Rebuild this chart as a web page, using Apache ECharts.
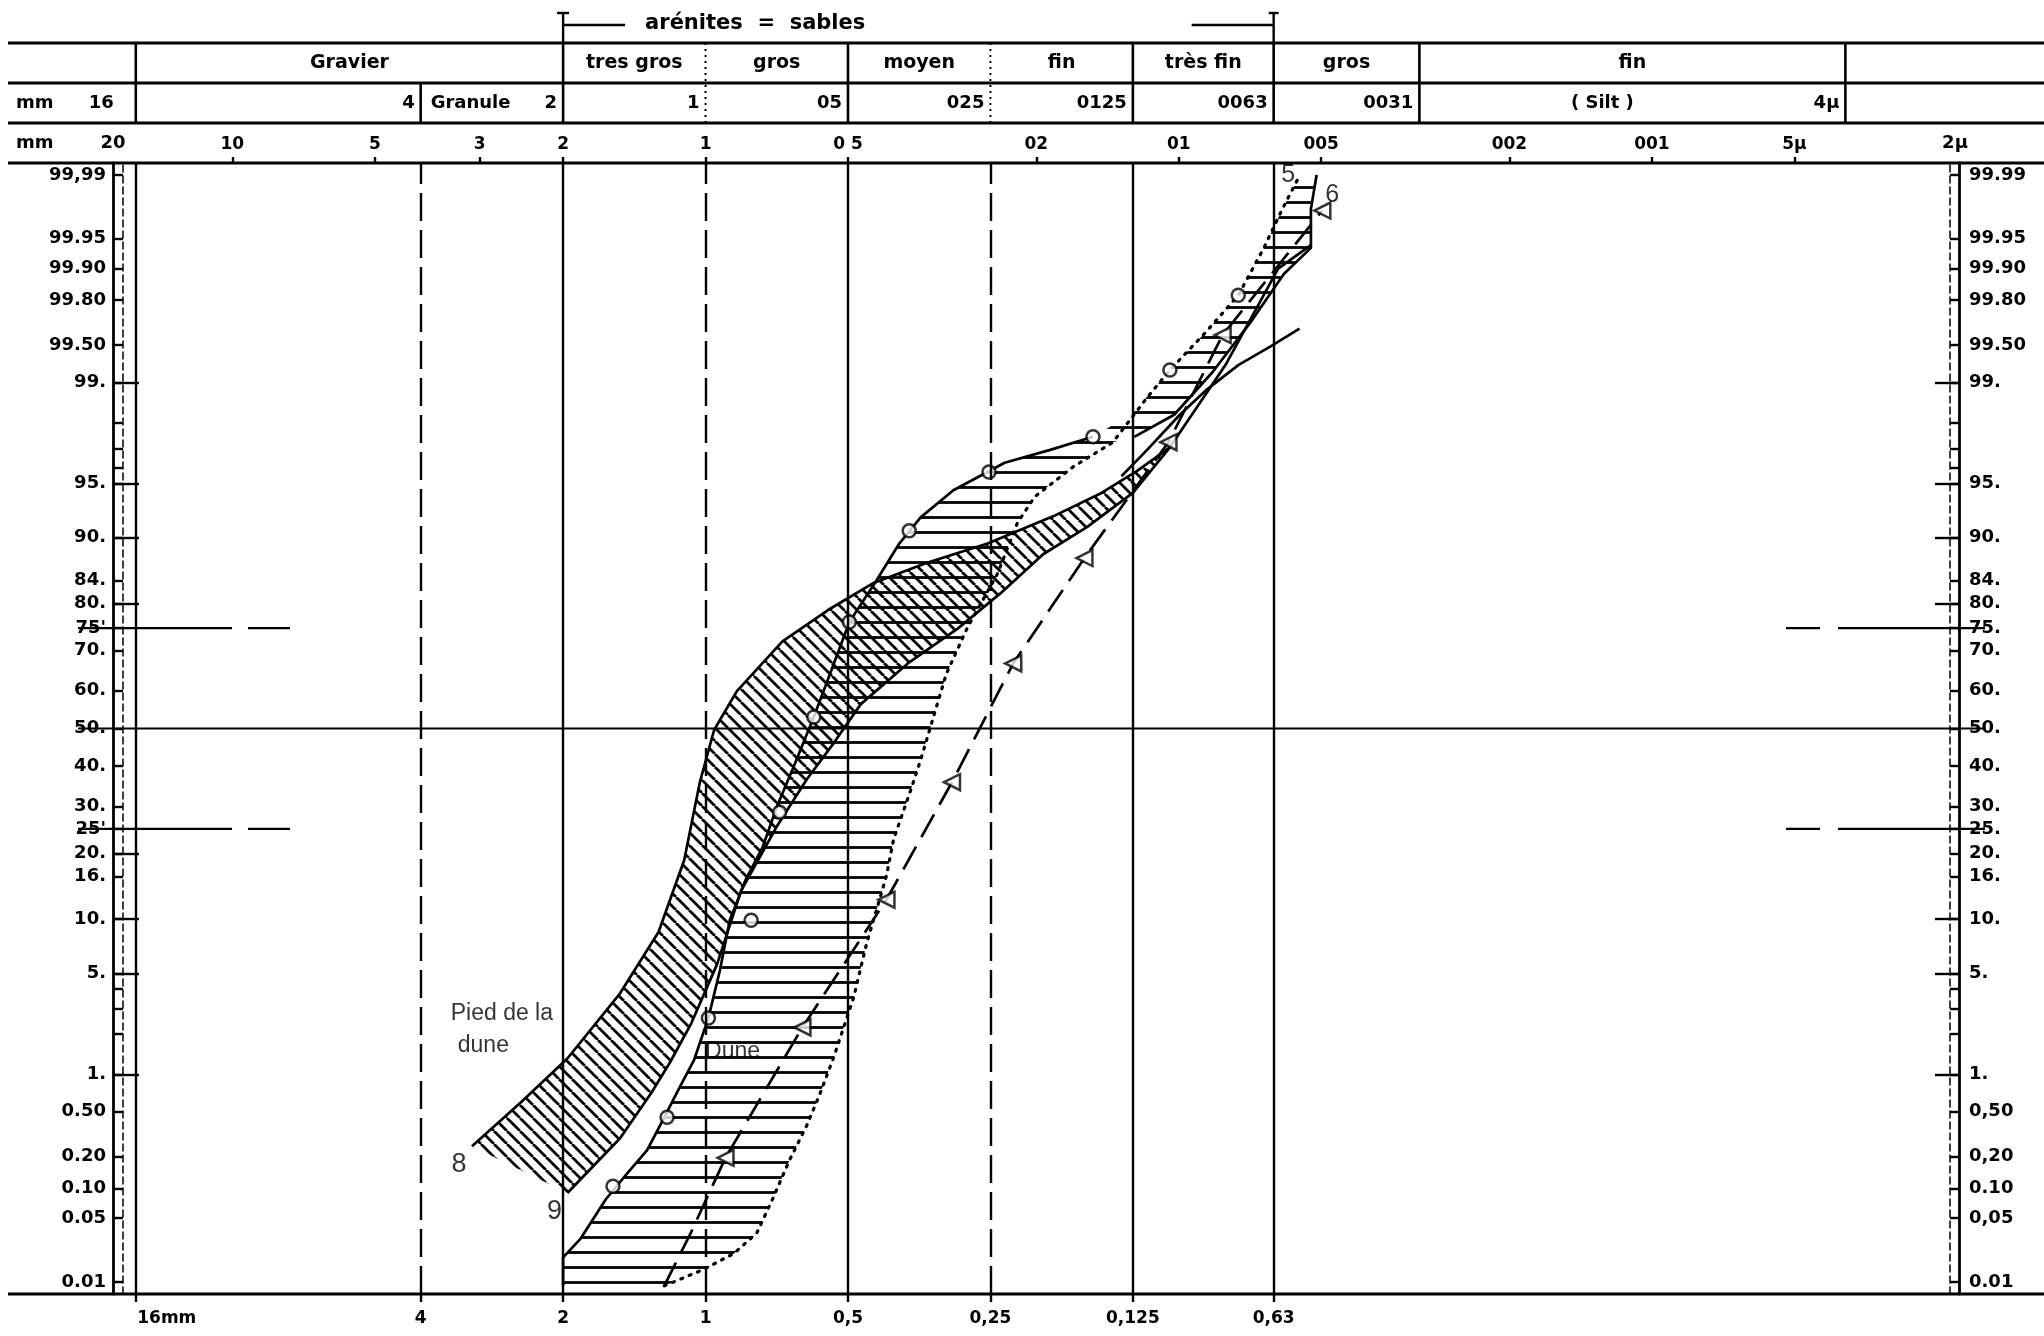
<!DOCTYPE html>
<html lang="fr">
<head>
<meta charset="utf-8">
<title>Courbes granulométriques cumulatives - Dune et pied de la dune</title>
<script src="https://cdn.jsdelivr.net/npm/echarts@6.0.0/dist/echarts.min.js"></script>
<style>
  html, body { margin: 0; background: #fff; }
  #chart { width: 2044px; height: 1336px; }
</style>
</head>
<body>
<div id="chart"></div>
<script>
// x : taille des grains en phi (-log2 mm), y : % cumulés (papier de probabilité)

// 8 - pied de la dune (hachures obliques)
const bande8Gauche = [[-1.64, 0.25], [-1.29, 0.61], [-0.97, 1.33], [-0.60, 3.76], [-0.33, 8.57], [-0.15, 18.8],
  [-0.04, 35.9], [0.06, 49.6], [0.22, 59.9], [0.54, 72.1], [0.86, 78.7], [1.18, 83.6], [1.55, 86.7],
  [1.98, 89.3], [2.44, 92.3], [2.78, 94.33], [3.03, 95.83], [3.26, 97.06]];
const bande8Droite = [[3.26, 97.06], [3.00, 94.33], [2.68, 91.23], [2.37, 87.92], [2.07, 81.8], [1.77, 74.9],
  [1.42, 66.9], [1.09, 56.5], [0.90, 46.1], [0.71, 36.6], [0.50, 25.5], [0.25, 13.8], [0.08, 5.63],
  [-0.10, 2.38], [-0.25, 1.24], [-0.38, 0.72], [-0.60, 0.295], [-0.97, 0.090]];
const bande8Pointe = [[3.26, 97.06], [3.65, 99.27], [4.02, 99.90], [4.25, 99.942]];

// 9 - dune (hachures horizontales)
const bande9Gauche = [[-1.00, 0.009], [-1.00, 0.019], [-0.88, 0.030], [-0.70, 0.078], [-0.55, 0.14], [-0.41, 0.23],
  [-0.32, 0.38], [-0.18, 0.80], [-0.08, 1.30], [0.02, 2.59], [0.10, 5.16], [0.17, 9.87], [0.28, 15.4],
  [0.40, 21.2], [0.50, 29.9], [0.63, 40.9], [0.76, 53.1], [0.88, 64.9], [1.01, 76.3], [1.20, 84.0],
  [1.36, 89.3], [1.51, 92.2], [1.74, 94.53], [2.10, 96.29], [2.42, 96.94], [2.72, 97.50], [3.00, 98.29],
  [3.26, 99.20], [3.51, 99.61], [3.74, 99.82], [3.92, 99.938], [4.05, 99.976], [4.16, 99.989]];
const bande9Droite = [[4.29, 99.990], [4.25, 99.976], [4.25, 99.938], [4.06, 99.887], [3.84, 99.70], [3.56, 99.17],
  [3.29, 98.25], [3.01, 97.50], [2.86, 97.28], [2.58, 96.06], [2.31, 94.02], [2.19, 91.65], [2.05, 85.1],
  [1.84, 75.2], [1.69, 64.3], [1.60, 53.1], [1.51, 41.6], [1.44, 33.9], [1.32, 22.8], [1.27, 16.1],
  [1.13, 7.39], [1.04, 3.54], [0.90, 1.36], [0.80, 0.69], [0.71, 0.38], [0.59, 0.187], [0.47, 0.078],
  [0.36, 0.035], [0.20, 0.021], [-0.01, 0.014], [-0.29, 0.009]];
const raccordPointille = [[3.10, 98.69]];

const pointsRonds = [[-0.65, 0.105], [-0.27, 0.45], [0.02, 2.59], [0.32, 9.87], [0.52, 28.7], [0.76, 53.1],
  [1.01, 76.3], [1.43, 90.8], [1.99, 95.76], [2.72, 97.50], [3.26, 99.20], [3.74, 99.82]];
const pointsTriangles = [[0.14, 0.196], [0.68, 2.23], [1.27, 12.5], [1.73, 35.9], [2.16, 66.9], [2.66, 87.4],
  [3.25, 97.28], [3.63, 99.59], [4.33, 99.975]];
const departTriangles = [[-0.29, 0.009], [-0.10, 0.036]];
const traitFin = [[2.92, 95.5], [3.10, 96.94], [3.33, 98.25], [3.51, 98.84], [3.74, 99.27], [3.97, 99.49], [4.17, 99.64]];

// annotations [texte, phi, %, taille]
const annotations = [['Pied de la', -1.43, 2.76, 23], ['dune', -1.56, 1.66, 23], ['Dune', 0.19, 1.50, 23],
  ['8', -1.73, 0.17, 27], ['9', -1.06, 0.058, 27], ['5', 4.09, 99.99, 25], ['6', 4.40, 99.983, 25]];

// graduations
const probaTicks = [99.99, 99.95, 99.9, 99.8, 99.5, 99, 95, 90, 84, 80, 75, 70, 60, 50, 40, 30, 25, 20, 16, 10, 5, 1,
  0.5, 0.2, 0.1, 0.05, 0.01];
const probaGauche = ['99,99', '99.95', '99.90', '99.80', '99.50', '99.', '95.', '90.', '84.', '80.', "75'", '70.', '60.',
  '50.', '40.', '30.', "25'", '20.', '16.', '10.', '5.', '1.', '0.50', '0.20', '0.10', '0.05', '0.01'];
const probaDroite = ['99.99', '99.95', '99.90', '99.80', '99.50', '99.', '95.', '90.', '84.', '80.', '75.', '70.', '60.',
  '50.', '40.', '30.', '25.', '20.', '16.', '10.', '5.', '1.', '0,50', '0,20', '0.10', '0,05', '0.01'];
const probaMineures = [98, 97, 96, 4, 3, 2];
const probaMajGauche = [99, 95, 90, 80, 20, 10, 5, 1];
const probaMajDroite = [99, 95, 90, 80, 10, 5, 1];

const tailleBasMm = [16, 4, 2, 1, 0.5, 0.25, 0.125, 0.063];
const etiquettesBas = ['16mm', '4', '2', '1', '0,5', '0,25', '0,125', '0,63'];
const traitsPleinsMm = [16, 2, 0.5, 0.125, 0.063];
const traitsTiretsMm = [4, 1, 0.25];
const tailleHautMm = [10, 5, 3, 2, 1, 0.5, 0.2, 0.1, 0.05, 0.02, 0.01, 0.005];
const etiquettesHaut = ['10', '5', '3', '2', '1', '0 5', '02', '01', '005', '002', '001', '5µ'];

// tableau des classes
const classesNoms = [[16, 2, 'Gravier'], [2, 1, 'tres gros'], [1, 0.5, 'gros'], [0.5, 0.25, 'moyen'],
  [0.25, 0.125, 'fin'], [0.125, 0.063, 'très fin'], [0.063, 0.031, 'gros'], [0.031, 0.0039, 'fin']];
const classesLimites = [[4, '4'], [2, '2'], [1, '1'], [0.5, '05'], [0.25, '025'], [0.125, '0125'],
  [0.063, '0063'], [0.031, '0031'], [0.0039, '4µ']];

const X_MIN = -4.16, X_MAX = 8.8, Z_LIM = 3.8;

// inverse de la loi normale (Acklam)
function probit(p) {
  const q0 = p / 100;
  const a = [-3.969683028665376e+01, 2.209460984245205e+02, -2.759285104469687e+02, 1.383577518672690e+02, -3.066479806614716e+01, 2.506628277459239e+00];
  const b = [-5.447609879822406e+01, 1.615858368580409e+02, -1.556989798598866e+02, 6.680131188771972e+01, -1.328068155288572e+01];
  const c = [-7.784894002430293e-03, -3.223964580411365e-01, -2.400758277161838e+00, -2.549732539343734e+00, 4.374664141464968e+00, 2.938163982698783e+00];
  const d = [7.784695709041462e-03, 3.224671290700398e-01, 2.445134137142996e+00, 3.754408661907416e+00];
  const plow = 0.02425;
  if (q0 < plow) {
    const q = Math.sqrt(-2 * Math.log(q0));
    return (((((c[0] * q + c[1]) * q + c[2]) * q + c[3]) * q + c[4]) * q + c[5]) / ((((d[0] * q + d[1]) * q + d[2]) * q + d[3]) * q + 1);
  }
  if (q0 > 1 - plow) {
    const q = Math.sqrt(-2 * Math.log(1 - q0));
    return -(((((c[0] * q + c[1]) * q + c[2]) * q + c[3]) * q + c[4]) * q + c[5]) / ((((d[0] * q + d[1]) * q + d[2]) * q + d[3]) * q + 1);
  }
  const q = q0 - 0.5, r = q * q;
  return (((((a[0] * r + a[1]) * r + a[2]) * r + a[3]) * r + a[4]) * r + a[5]) * q / (((((b[0] * r + b[1]) * r + b[2]) * r + b[3]) * r + b[4]) * r + 1);
}

const phi = mm => -Math.log2(mm);
const enZ = pts => pts.map(p => [p[0], probit(p[1])]);
const plusProche = (liste, v) => {
  let k = 0;
  liste.forEach((x, i) => { if (Math.abs(x - v) < Math.abs(liste[k] - v)) k = i; });
  return k;
};

function motifHachure(sens, pas, epaisseur) {
  const c = document.createElement('canvas');
  c.width = pas; c.height = pas;
  const g = c.getContext('2d');
  g.strokeStyle = '#000';
  g.lineWidth = epaisseur;
  g.beginPath();
  if (sens === 'horizontal') {
    g.moveTo(0, pas / 2); g.lineTo(pas, pas / 2);
  } else {
    for (const k of [-pas, 0, pas]) { g.moveTo(k, 0); g.lineTo(k + pas, pas); }
  }
  g.stroke();
  return { image: c, repeat: 'repeat' };
}

const chart = echarts.init(document.getElementById('chart'));

const zTicks = probaTicks.map(probit);
const zTicksTous = probaTicks.concat(probaMineures).map(probit);
const phisBas = tailleBasMm.map(phi);
const phisHaut = tailleHautMm.map(phi);
const police = '"DejaVu Sans", sans-serif';
const texteAxe = { fontFamily: police, fontWeight: 'bold', fontSize: 17, color: '#000' };
const noir = { color: '#000', width: 2.4 };

const axeY = (position, extra) => Object.assign({
  type: 'value', position, min: -Z_LIM, max: Z_LIM, splitLine: { show: false },
  axisLine: { show: false, onZero: false }, axisTick: { show: false }, axisLabel: { show: false }
}, extra);

const serieBande = (name, points, motif) => ({
  type: 'custom', name, silent: true, z: 1, data: [[0, 0]],
  renderItem: (params, api) => ({
    type: 'polygon',
    shape: { points: points.map(p => api.coord([p[0], probit(p[1])])) },
    style: { fill: motif, stroke: 'none' }
  })
});

const serieTrait = (name, pts, lineStyle) => ({
  type: 'line', name, data: enZ(pts), symbol: 'none', silent: true, z: 3,
  lineStyle: Object.assign({ color: '#000', width: 2.7 }, lineStyle)
});

const option = {
  backgroundColor: '#fff',
  animation: false,
  grid: { left: 113, right: 85, top: 163, bottom: 42 },
  xAxis: [
    {
      type: 'value', position: 'bottom', min: X_MIN, max: X_MAX, splitLine: { show: false },
      axisLine: { show: false, onZero: false },
      axisTick: { show: true, customValues: phisBas, length: 8, lineStyle: noir },
      axisLabel: Object.assign({
        customValues: phisBas, margin: 16,
        formatter: v => {
          const i = plusProche(phisBas, v);
          return i === 0 ? '{d|' + etiquettesBas[i] + '}' : etiquettesBas[i];
        },
        rich: { d: Object.assign({ padding: [0, 0, 0, 62] }, texteAxe) }
      }, texteAxe)
    },
    {
      type: 'value', position: 'top', min: X_MIN, max: X_MAX, splitLine: { show: false },
      axisLine: { show: false, onZero: false },
      axisTick: { show: true, customValues: phisHaut, length: 6, lineStyle: noir },
      axisLabel: Object.assign({ customValues: phisHaut, margin: 10, formatter: v => etiquettesHaut[plusProche(phisHaut, v)] }, texteAxe)
    }
  ],
  yAxis: [
    axeY('left', {
      axisLine: { show: true, onZero: false, lineStyle: { color: '#000', width: 2.8 } },
      axisTick: { show: true, inside: true, length: 10, customValues: zTicksTous, lineStyle: noir },
      axisLabel: Object.assign({ show: true, customValues: zTicks, margin: 7, formatter: v => probaGauche[plusProche(zTicks, v)] }, texteAxe, { fontSize: 18 })
    }),
    axeY('left', { axisTick: { show: true, inside: true, length: 26, customValues: probaMajGauche.map(probit), lineStyle: noir } }),
    axeY('left', { offset: -10, axisLine: { show: true, onZero: false, lineStyle: { color: '#000', width: 1.5, type: [7, 4] } } }),
    axeY('right', {
      axisLine: { show: true, onZero: false, lineStyle: { color: '#000', width: 2.8 } },
      axisTick: { show: true, inside: true, length: 9, customValues: zTicksTous, lineStyle: noir },
      axisLabel: Object.assign({ show: true, customValues: zTicks, margin: 10, formatter: v => probaDroite[plusProche(zTicks, v)] }, texteAxe, { fontSize: 18 })
    }),
    axeY('right', { axisTick: { show: true, inside: true, length: 24, customValues: probaMajDroite.map(probit), lineStyle: noir } }),
    axeY('right', { offset: -9, axisLine: { show: true, onZero: false, lineStyle: { color: '#000', width: 1.5, type: [7, 4] } } })
  ],
  series: [
    serieBande('Pied de la dune', bande8Gauche.concat(bande8Droite), motifHachure('oblique', 13, 2.8)),
    serieBande('Dune', bande9Gauche.concat(bande9Droite), motifHachure('horizontal', 15, 2.8)),
    serieTrait('8 limite gauche', bande8Gauche),
    serieTrait('8 limite droite', bande8Droite),
    serieTrait('8 pointe', bande8Pointe),
    serieTrait('9 limite gauche', bande9Gauche.slice(0, 26)),
    serieTrait('9 limite haute', bande9Droite.slice(0, 8)),
    serieTrait('9 pointillé', bande9Droite.slice(8).reverse().concat(raccordPointille, bande9Gauche.slice(27)),
      { type: [2, 7], cap: 'round', width: 3.2 }),
    serieTrait('trait fin', traitFin),
    serieTrait('triangles', departTriangles.concat(pointsTriangles), { type: [26, 11] }),
    {
      type: 'scatter', name: 'ronds', data: enZ(pointsRonds), symbol: 'circle', symbolSize: 13, z: 4, silent: true,
      itemStyle: { color: '#fff', borderColor: '#000', borderWidth: 2.5 }
    },
    {
      type: 'scatter', name: 'triangles pts', data: enZ(pointsTriangles), symbol: 'triangle', symbolSize: 16,
      symbolRotate: 90, z: 4, silent: true,
      itemStyle: { color: '#fff', borderColor: '#000', borderWidth: 2.5 }
    },
    {
      type: 'scatter', name: 'annotations', symbolSize: 1, z: 5, silent: true,
      itemStyle: { color: 'rgba(0,0,0,0)' },
      data: annotations.map(a => ({
        name: a[0], value: [a[1], probit(a[2])],
        label: { fontSize: a[3] }
      })),
      label: {
        show: true, position: 'inside', formatter: '{b}', color: '#000',
        fontFamily: '"Liberation Sans", Arial, sans-serif'
      },
      markLine: {
        silent: true, symbol: ['none', 'none'], label: { show: false },
        data: traitsPleinsMm.map(mm => ({ xAxis: phi(mm), lineStyle: { color: '#000', width: 2.4, type: 'solid' } }))
          .concat(traitsTiretsMm.map(mm => ({ xAxis: phi(mm), lineStyle: { color: '#000', width: 2.4, type: [28, 9] } })))
      }
    }
  ]
};

chart.setOption(option);

// cadre, tableau des classes et repères horizontaux
function dessinerCadre() {
  const px = mm => chart.convertToPixel({ xAxisIndex: 0 }, phi(mm));
  const pz = z => chart.convertToPixel({ yAxisIndex: 0 }, z);
  const py = p => pz(probit(p));
  const g = [];
  const trait = (x1, y1, x2, y2, w, dash) => {
    const style = { stroke: '#000', lineWidth: w || 2.6 };
    if (dash) style.lineDash = dash;
    g.push({ type: 'line', silent: true, shape: { x1, y1, x2, y2 }, style });
  };
  const texte = (t, x, y, align, taille) => g.push({
    type: 'text', silent: true, x, y,
    style: {
      text: t, fill: '#000', font: 'bold ' + (taille || 18) + 'px ' + police,
      align: align || 'center', verticalAlign: 'middle',
      textAlign: align || 'center', textVerticalAlign: 'middle'
    }
  });

  const Y0 = 43, Y1 = 83, Y2 = 123;
  const yHaut = pz(Z_LIM), yBas = pz(-Z_LIM);
  const xG = chart.convertToPixel({ xAxisIndex: 0 }, X_MIN);
  const xD = chart.convertToPixel({ xAxisIndex: 0 }, X_MAX);

  [Y0, Y1, Y2, yHaut, yBas].forEach(y => trait(8, y, 2044, y, 3));
  [16, 2, 0.5, 0.125, 0.063, 0.031, 0.0039].forEach(mm => trait(px(mm), Y0, px(mm), Y2));
  trait(px(4), Y1, px(4), Y2);
  [1, 0.25].forEach(mm => trait(px(mm), Y0, px(mm), Y2, 2, [2, 4]));

  // arénites = sables
  const xa = px(2), xb = px(0.063);
  trait(xa, 13, xa, Y0, 2.4); trait(xa - 6, 13, xa + 6, 13, 2.4); trait(xa, 25, xa + 62, 25, 2.4);
  trait(xb, 13, xb, Y0, 2.4); trait(xb - 5, 13, xb + 5, 13, 2.4); trait(xb - 82, 25, xb, 25, 2.4);
  texte('arénites  =  sables', xa + 82, 24, 'left', 21);

  classesNoms.forEach(([a, b, t]) => texte(t, (px(a) + px(b)) / 2, 63, 'center', 19));
  texte('mm', 16, 103, 'left'); texte('16', px(16) - 22, 103, 'right');
  classesLimites.forEach(([mm, t]) => texte(t, px(mm) - 6, 103, 'right'));
  texte('Granule', px(4) + 10, 103, 'left');
  texte('( Silt )', (px(0.031) + px(0.0039)) / 2 - 30, 103);
  texte('mm', 16, 143, 'left'); texte('20', xG, 143); texte('2µ', xD - 4, 143);

  // 50 %, 75 % et 25 %
  const y50 = py(50);
  trait(78, y50, 1985, y50, 2.2);
  [75, 25].forEach(p => {
    const y = py(p);
    trait(78, y, 232, y, 2.2); trait(248, y, 290, y, 2.2);
    trait(1786, y, 1820, y, 2.2); trait(1838, y, 1985, y, 2.2);
  });

  chart.setOption({ graphic: g });
}
dessinerCadre();
window.addEventListener('resize', () => chart.resize());
</script>
</body>
</html>
